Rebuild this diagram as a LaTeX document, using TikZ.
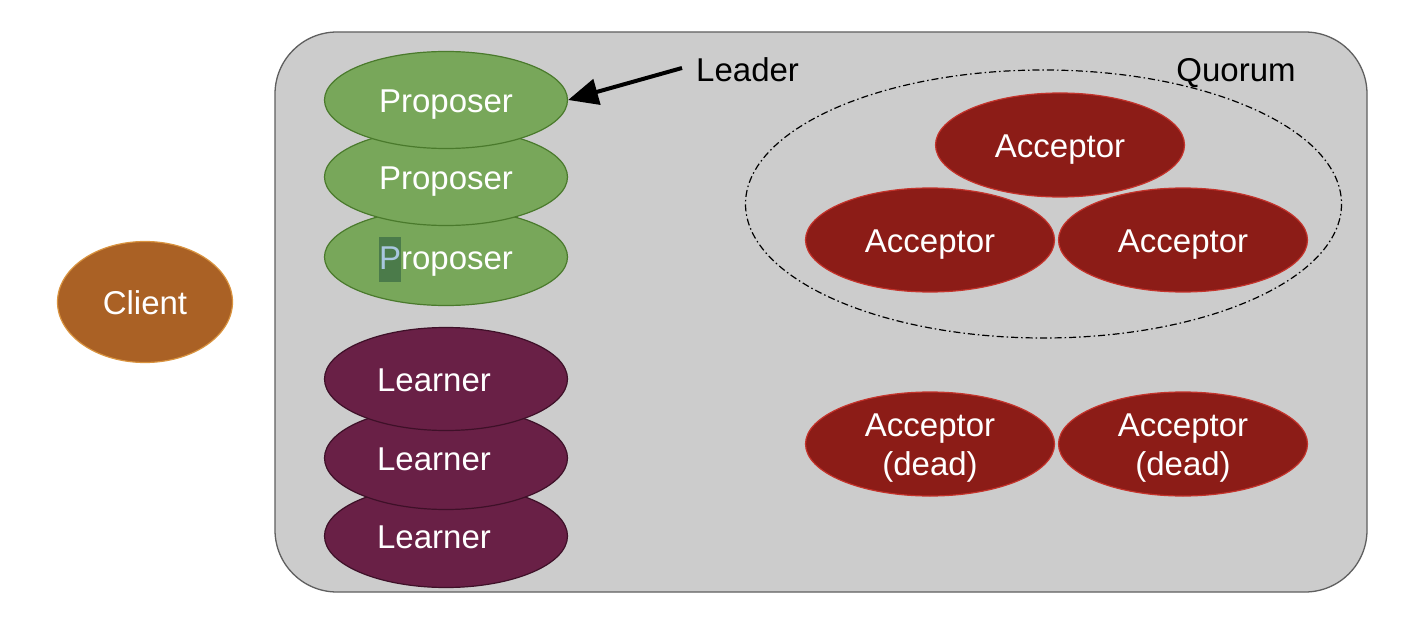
\documentclass[tikz,border=0pt]{standalone}
\usepackage{fontspec}
\setmainfont{Liberation Sans}
\usetikzlibrary{shapes.geometric,arrows.meta}
\definecolor{panelfill}{HTML}{CCCCCC}
\definecolor{panelline}{HTML}{5F5F5F}
\definecolor{propfill}{HTML}{78A75A}
\definecolor{propline}{HTML}{4A7A2C}
\definecolor{learnfill}{HTML}{692046}
\definecolor{learnline}{HTML}{3E1028}
\definecolor{accfill}{HTML}{8C1C17}
\definecolor{accline}{HTML}{C4332B}
\definecolor{clientfill}{HTML}{AA6125}
\definecolor{clientline}{HTML}{D9933F}
\definecolor{hlgreen}{HTML}{4B7B4A}
\definecolor{hlblue}{HTML}{A9C7DF}
\tikzset{
  blob/.style={ellipse, inner sep=0pt, text=white, font=\fontsize{33}{39}\selectfont, align=center, line width=1.2pt, text height=25pt, text depth=0pt},
  proposer/.style={blob, fill=propfill, draw=propline, minimum width=243pt, minimum height=97pt},
  learner/.style={blob, fill=learnfill, draw=learnline, minimum width=243pt, minimum height=103pt},
  acceptor/.style={blob, fill=accfill, draw=accline, minimum width=249pt, minimum height=104pt},
  deadacc/.style={acceptor, text height=63pt, text depth=0pt},
  client/.style={blob, fill=clientfill, draw=clientline, minimum width=175pt, minimum height=121pt},
  plainlabel/.style={inner sep=0pt, font=\fontsize{33}{39}\selectfont, text=black, text height=25pt, text depth=0pt},
}
\begin{document}
\begin{tikzpicture}[x=1pt,y=-1pt]
\useasboundingbox (0,0) rectangle (1420,628);
\fill[white] (0,0) rectangle (1420,628);
% panel
\draw[fill=panelfill, draw=panelline, line width=1.3pt, rounded corners=62pt] (275,32) rectangle (1367,592);
% client
\node[client] (client) at (145,302) {Client};
% proposers
\node[proposer] (p3) at (446,257) {\setlength\fboxsep{0pt}\colorbox{hlgreen}{\rule[-12pt]{0pt}{45pt}\textcolor{hlblue}{P}}roposer};
\node[proposer] (p2) at (446,177) {Proposer};
\node[proposer] (p1) at (446,100) {Proposer};
% learners
\node[learner] (l3) at (446,536) {Learner\hspace{24pt}};
\node[learner] (l2) at (446,458) {Learner\hspace{24pt}};
\node[learner] (l1) at (446,379) {Learner\hspace{24pt}};
% quorum
\draw[black, line width=1.2pt, dash pattern=on 7pt off 3pt on 1.5pt off 3pt] (1043.5,204) ellipse [x radius=298, y radius=134];
\node[plainlabel] (quorum) at (1236,69) {Quorum};
% acceptors
\node[acceptor] (a1) at (1060,145) {Acceptor};
\node[acceptor] (a2) at (930,240) {Acceptor};
\node[acceptor] (a3) at (1183,240) {Acceptor};
\node[deadacc] (a4) at (930,444) {Acceptor\\(dead)};
\node[deadacc] (a5) at (1183,444) {Acceptor\\(dead)};
% leader
\node[plainlabel, anchor=west] (leader) at (696,69) {Leader};
\draw[line width=4pt, -{Triangle[length=30pt,width=26pt]}] (leader.west) ++(-14pt,1pt) coordinate (ls) -- (p1.east);
\end{tikzpicture}
\end{document}
